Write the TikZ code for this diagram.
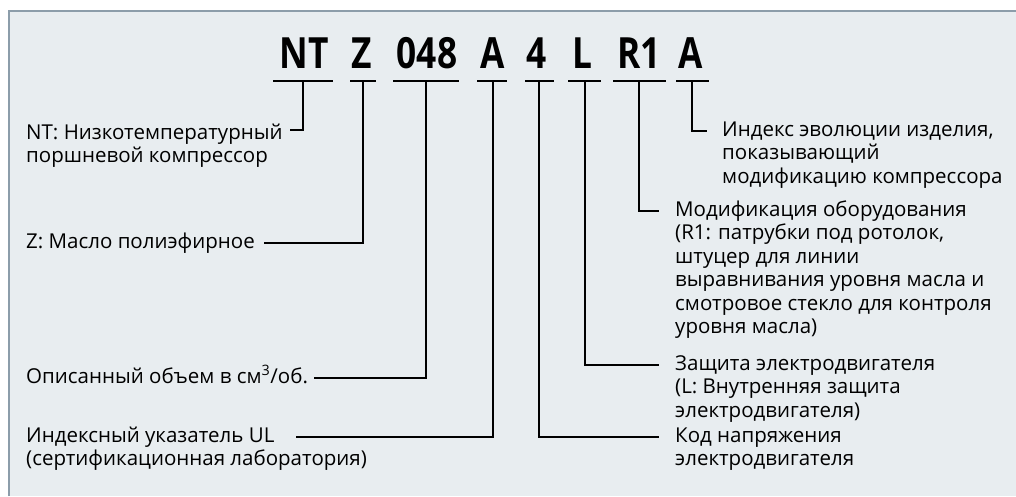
\documentclass[tikz,border=0pt]{standalone}
\usepackage{fontspec}
\setmainfont{Open Sans}
\newfontfamily\codefont{Open Sans}
\definecolor{panelbg}{HTML}{E8EDF0}
\definecolor{panelrule}{HTML}{8C9DAA}
\begin{document}
\begin{tikzpicture}[x=1pt,y=-1pt,
  code/.style={inner sep=0pt, anchor=base, font=\codefont\bfseries\fontsize{43}{46}\selectfont, xscale=0.82},
  lab/.style={inner sep=0pt, anchor=base west, align=left, font=\fontsize{20.5}{23.5}\selectfont},
  bar/.style={line width=2.4pt},
  conn/.style={line width=2pt}]
\useasboundingbox (0,0) rectangle (1016,496);
\fill[white] (0,0) rectangle (1016,496);
\fill[panelbg] (8,10) rectangle (1016,496);
\draw[panelrule, line width=1.6pt] (8.8,496) -- (8.8,10.8) -- (1016,10.8);

% code letters
\node[code] (c1) at (304,68) {NT};
\node[code] (c2) at (362,68) {Z};
\node[code] (c3) at (427,68) {048};
\node[code] (c4) at (493,68) {A};
\node[code] (c5) at (537,68) {4};
\node[code] (c6) at (582,68) {L};
\node[code] (c7) at (639,68) {R1};
\node[code] (c8) at (691,68) {A};

% bars
\draw[bar] (273,81) -- (333,81);
\draw[bar] (350,81) -- (376,81);
\draw[bar] (393,81) -- (459,81);
\draw[bar] (477,81) -- (507,81);
\draw[bar] (525,81) -- (554,81);
\draw[bar] (568,81) -- (601,81);
\draw[bar] (613,81) -- (666,81);
\draw[bar] (676,81) -- (709,81);

\coordinate (b1) at (303,81);
\coordinate (b2) at (363,81);
\coordinate (b3) at (426,81);
\coordinate (b4) at (493,81);
\coordinate (b5) at (539,81);
\coordinate (b6) at (585,81);
\coordinate (b7) at (639,81);
\coordinate (b8) at (692,81);

% labels (anchor = baseline of the last line)
\node[lab] (l1) at (26,162.5) {NT: Низкотемпературный\\поршневой компрессор};
\node[lab] (l2) at (26,248) {Z: Масло полиэфирное};
\node[lab] (l3) at (26,383) {Описанный объем в см\textsuperscript{3}/об.};
\node[lab] (l4) at (26,465.5) {Индексный указатель UL\\(сертификационная лаборатория)};
\node[lab] (l5) at (675,465.5) {Код напряжения\\электродвигателя};
\node[lab] (l6) at (675,417) {Защита электродвигателя\\(L: Внутренняя защита\\электродвигателя)};
\node[lab] (l7) at (675,333.5) {Модификация оборудования\\(R1: патрубки под ротолок,\\штуцер для линии\\выравнивания уровня масла и\\смотровое стекло для контроля\\уровня масла)};
\node[lab] (l8) at (722,183) {Индекс эволюции изделия,\\показывающий\\модификацию компрессора};

% connector ends
\coordinate (e1) at (290,130);
\coordinate (e2) at (264,243);
\coordinate (e3) at (314,378);
\coordinate (e4) at (296,437);
\coordinate (e5) at (659,437);
\coordinate (e6) at (659,365);
\coordinate (e7) at (659,211);
\coordinate (e8) at (707,131);

\draw[conn] (b1) |- (e1);
\draw[conn] (b2) |- (e2);
\draw[conn] (b3) |- (e3);
\draw[conn] (b4) |- (e4);
\draw[conn] (b5) |- (e5);
\draw[conn] (b6) |- (e6);
\draw[conn] (b7) |- (e7);
\draw[conn] (b8) |- (e8);
\end{tikzpicture}
\end{document}
